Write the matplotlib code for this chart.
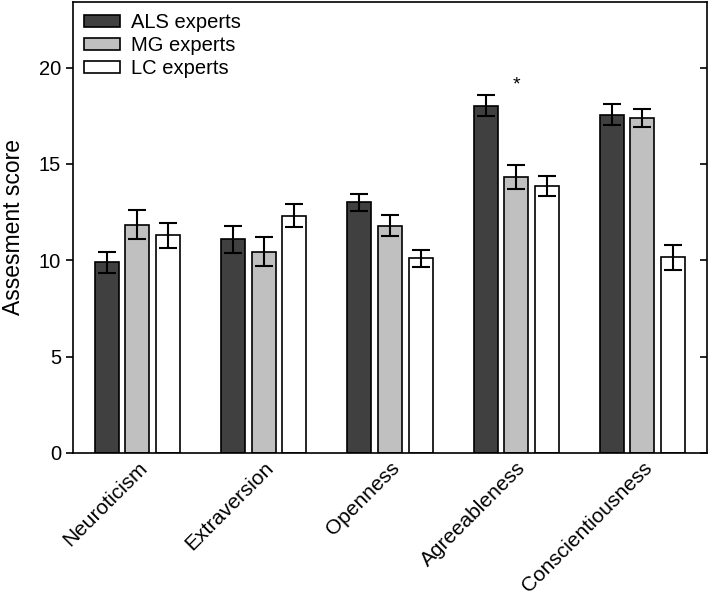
import matplotlib
matplotlib.use("Agg")
import matplotlib.pyplot as plt
import matplotlib.transforms as mtransforms
import numpy as np

# ── Data ──────────────────────────────────────────────────────────────────────
traits = ["Neuroticism", "Extraversion", "Openness", "Agreeableness", "Conscientiousness"]
groups = ["ALS experts", "MG experts", "LC experts"]

als_mean = [9.9, 11.1, 13.0, 18.03, 17.56]
als_err  = [0.55, 0.7, 0.45, 0.55, 0.54]
mg_mean  = [11.85, 10.45, 11.8, 14.32, 17.39]
mg_err   = [0.75, 0.75, 0.55, 0.6, 0.45]
lc_mean  = [11.3, 12.3, 10.1, 13.85, 10.15]
lc_err   = [0.65, 0.6, 0.45, 0.54, 0.65]

colors = ["#404040", "#c0c0c0", "#ffffff"]

plt.rcParams.update({
    "font.family": ["Liberation Sans", "DejaVu Sans"],
    "font.size": 14.5,
})

fig = plt.figure(figsize=(7.09, 5.96), dpi=100)
ax = fig.add_axes([0.103, 0.240, 0.894, 0.7566])

x = np.arange(len(traits))
width, step = 0.19, 0.242
series = [(als_mean, als_err), (mg_mean, mg_err), (lc_mean, lc_err)]
for i, ((m, e), col, lab) in enumerate(zip(series, colors, groups)):
    pos = x + (i - 1) * step
    ax.bar(pos, m, width, color=col, edgecolor="black", linewidth=1.2, label=lab, zorder=2)
    ax.errorbar(pos, m, yerr=e, fmt="none", ecolor="black", elinewidth=1.5,
                capsize=6.5, capthick=1.5, zorder=3)

# significance marker over Agreeableness
ax.text(x[3], 19.1, "*", ha="center", va="center", fontsize=14)

ax.set_xlim(-0.51, 4.51)
ax.set_ylim(0, 23.4)
ax.set_yticks([0, 5, 10, 15, 20])
ax.set_ylabel("Assesment score", fontsize=16.5)
ax.yaxis.set_label_coords(-0.076, 0.5)

ax.set_xticks(x)
ax.set_xticklabels(traits, rotation=45, ha="right", rotation_mode="anchor", fontsize=15)
offset = mtransforms.ScaledTranslation(4 / 100, -6 / 100, fig.dpi_scale_trans)
for lbl in ax.get_xticklabels():
    lbl.set_transform(lbl.get_transform() + offset)
ax.tick_params(axis="x", length=0, pad=4)
ax.tick_params(axis="y", direction="out", length=5, width=1.2, right=True)
for sp in ax.spines.values():
    sp.set_linewidth(1.2)

# right-side ticks point inward
for t in ax.yaxis.get_major_ticks():
    t.tick2line.set_marker(matplotlib.lines.TICKLEFT)

ax.legend(loc="upper left", frameon=False, handlelength=1.8, handleheight=0.6,
          labelspacing=0.2, handletextpad=0.55, borderaxespad=0.15,
          bbox_to_anchor=(0.0, 1.0), fontsize=14.5)

fig.savefig("out.png", dpi=100)
